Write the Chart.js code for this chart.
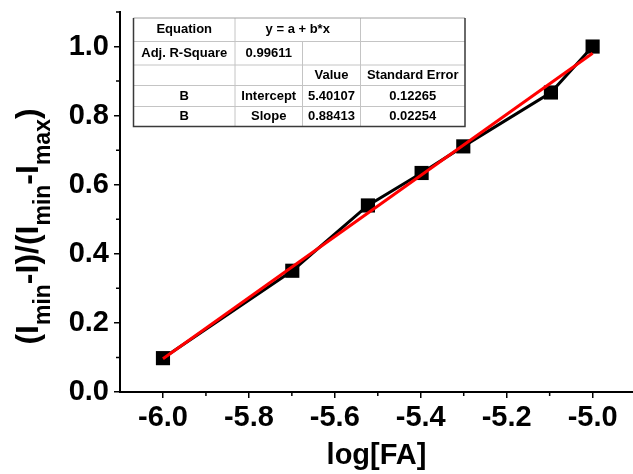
<!DOCTYPE html>
<html>
<head>
<meta charset="utf-8">
<script src="https://cdn.jsdelivr.net/npm/chart.js@4/dist/chart.umd.min.js"></script>
<style>
html,body{margin:0;padding:0;background:#fff;}
#wrap{width:633px;height:474px;position:relative;}
canvas{display:block;}
</style>
</head>
<body>
<div id="wrap"><canvas id="c" width="633" height="474" style="width:633px;height:474px"></canvas></div>
<script>
// ---- data ----
const logFA = [-6.0, -5.699, -5.523, -5.398, -5.301, -5.097, -5.0];
const ratio = [0.098, 0.351, 0.540, 0.634, 0.711, 0.867, 1.0];
const fitRange = [-6.0, -5.0];

const xTicks = [-6.0, -5.8, -5.6, -5.4, -5.2, -5.0];
const xMinorTicks = [-5.9, -5.7, -5.5, -5.3, -5.1];
const yTicks = [0.0, 0.2, 0.4, 0.6, 0.8, 1.0];
const yMinorTicks = [0.1, 0.3, 0.5, 0.7, 0.9, 1.1];

const tableEquation = ["Equation", "y = a + b*x"];
const tableAdjR2 = ["Adj. R-Square", "0.99611"];
const tableHeads = ["", "", "Value", "Standard Error"];
const tableIntercept = ["B", "Intercept", "5.40107", "0.12265"];
const tableSlope = ["B", "Slope", "0.88413", "0.02254"];

const xTitle = "log[FA]";
const yTitleParts = [["(I", 0], ["min", 1], ["-I)/(I", 0], ["min", 1], ["-I", 0], ["max", 1], [")", 0]];

const fitIntercept = parseFloat(tableIntercept[2]);
const fitSlope = parseFloat(tableSlope[2]);

const FONT = "'Liberation Sans', Arial, sans-serif";

const minorTicksPlugin = {
  id: 'minorTicks',
  afterDraw(chart) {
    const ctx = chart.ctx;
    const xs = chart.scales.x, ys = chart.scales.y;
    ctx.save();
    ctx.strokeStyle = '#000';
    ctx.lineWidth = 1.5;
    ctx.beginPath();
    xMinorTicks.forEach(v => {
      const p = xs.getPixelForValue(v);
      ctx.moveTo(p, ys.bottom); ctx.lineTo(p, ys.bottom + 4);
    });
    yMinorTicks.forEach(v => {
      const p = ys.getPixelForValue(v);
      ctx.moveTo(xs.left, p); ctx.lineTo(xs.left - 4, p);
    });
    ctx.stroke();
    ctx.restore();
  }
};

function yTitlePartsWidths(ctx, mainFont, subFont) {
  return yTitleParts.map(p => { ctx.font = p[1] ? subFont : mainFont; return ctx.measureText(p[0]).width; });
}
const yTitlePlugin = {
  id: 'yTitle',
  afterDraw(chart) {
    const ctx = chart.ctx;
    const mainFont = 'bold 32px ' + FONT;
    const subFont = 'bold 23px ' + FONT;
    ctx.save();
    const widths = yTitlePartsWidths(ctx, mainFont, subFont);
    let total = 0;
    widths.forEach(w => total += w);
    ctx.translate(38, 226.5);
    ctx.rotate(-Math.PI / 2);
    ctx.fillStyle = '#000';
    ctx.textBaseline = 'alphabetic';
    ctx.textAlign = 'left';
    let x = -total / 2;
    yTitleParts.forEach((p, i) => {
      ctx.font = p[1] ? subFont : mainFont;
      ctx.fillText(p[0], x, p[1] ? 12 : 0);
      x += widths[i];
    });
    ctx.restore();
  }
};

const tablePlugin = {
  id: 'fitTable',
  afterDatasetsDraw(chart) {
    const ctx = chart.ctx;
    const cx = [133.5, 235, 302.5, 360.5, 465];
    const ry = [18, 41.5, 65, 85.5, 106.5, 126.5];
    ctx.save();
    ctx.fillStyle = '#fff';
    ctx.fillRect(cx[0], ry[0], cx[4] - cx[0], ry[5] - ry[0]);
    ctx.strokeStyle = '#c4c4c4';
    ctx.lineWidth = 1;
    ctx.beginPath();
    for (let r = 1; r < 5; r++) { ctx.moveTo(cx[0], ry[r]); ctx.lineTo(cx[4], ry[r]); }
    ctx.moveTo(cx[1], ry[0]); ctx.lineTo(cx[1], ry[5]);
    ctx.moveTo(cx[2], ry[1]); ctx.lineTo(cx[2], ry[5]);
    ctx.moveTo(cx[3], ry[0]); ctx.lineTo(cx[3], ry[5]);
    ctx.stroke();
    ctx.strokeStyle = '#a0a0a0';
    ctx.beginPath(); ctx.moveTo(cx[0], ry[0]); ctx.lineTo(cx[4], ry[0]); ctx.stroke();
    ctx.strokeStyle = '#3a3a3a';
    ctx.lineWidth = 1.5;
    ctx.beginPath();
    ctx.moveTo(cx[0], ry[0]); ctx.lineTo(cx[0], ry[5]); ctx.lineTo(cx[4], ry[5]); ctx.lineTo(cx[4], ry[0]);
    ctx.stroke();
    ctx.fillStyle = '#000';
    ctx.font = 'bold 13px ' + FONT;
    ctx.textAlign = 'center';
    ctx.textBaseline = 'middle';
    const mid = (a, b) => (a + b) / 2;
    ctx.fillText(tableEquation[0], mid(cx[0], cx[1]), mid(ry[0], ry[1]));
    ctx.fillText(tableEquation[1], mid(cx[1], cx[3]), mid(ry[0], ry[1]));
    ctx.fillText(tableAdjR2[0], mid(cx[0], cx[1]), mid(ry[1], ry[2]));
    ctx.fillText(tableAdjR2[1], mid(cx[1], cx[2]), mid(ry[1], ry[2]));
    [tableHeads, tableIntercept, tableSlope].forEach((row, ri) => {
      row.forEach((t, ci) => {
        if (t) ctx.fillText(t, mid(cx[ci], cx[ci + 1]), mid(ry[ri + 2], ry[ri + 3]));
      });
    });
    ctx.restore();
  }
};

new Chart(document.getElementById('c'), {
  type: 'scatter',
  data: {
    datasets: [
      {
        label: 'Linear Fit',
        data: fitRange.map(x => ({ x: x, y: fitIntercept + fitSlope * x })),
        showLine: true,
        borderColor: '#ff0000',
        borderWidth: 3,
        pointRadius: 0,
        fill: false
      },
      {
        label: 'B',
        data: logFA.map((x, i) => ({ x: x, y: ratio[i] })),
        showLine: true,
        borderColor: '#000',
        borderWidth: 3,
        pointStyle: 'rect',
        pointRadius: 10,
        pointBackgroundColor: '#000',
        pointBorderColor: '#000',
        pointBorderWidth: 0,
        fill: false
      }
    ]
  },
  options: {
    responsive: false,
    animation: false,
    devicePixelRatio: 1,
    layout: { autoPadding: false, padding: { top: 12, right: 0, bottom: 0, left: 0 } },
    plugins: { legend: { display: false }, tooltip: { enabled: false }, title: { display: false } },
    scales: {
      x: {
        type: 'linear',
        min: -6.1,
        max: -4.906,
        afterBuildTicks: s => { s.ticks = xTicks.map(v => ({ value: v })); },
        afterFit: s => { s.height = 82; s.paddingLeft = 0; s.paddingRight = 0; },
        grid: { display: true, drawOnChartArea: false, drawTicks: true, tickLength: 6, color: '#000', lineWidth: 1.5 },
        border: { display: true, color: '#000', width: 2 },
        ticks: {
          autoSkip: false, maxRotation: 0, color: '#000', padding: 3,
          font: { family: FONT, size: 29, weight: 'bold' },
          callback: v => v.toFixed(1)
        },
        title: {
          display: true, text: xTitle, color: '#000',
          font: { family: FONT, size: 29, weight: 'bold' },
          padding: { top: 0, bottom: 1 }
        }
      },
      y: {
        type: 'linear',
        min: 0,
        max: 1.1,
        afterBuildTicks: s => { s.ticks = yTicks.map(v => ({ value: v })); },
        afterFit: s => { s.width = 120; s.paddingTop = 0; s.paddingBottom = 0; },
        grid: { display: true, drawOnChartArea: false, drawTicks: true, tickLength: 6, color: '#000', lineWidth: 1.5 },
        border: { display: true, color: '#000', width: 2 },
        ticks: {
          autoSkip: false, color: '#000', padding: 5,
          font: { family: FONT, size: 29, weight: 'bold' },
          callback: v => v.toFixed(1)
        },
        title: { display: false }
      }
    }
  },
  plugins: [minorTicksPlugin, tablePlugin, yTitlePlugin]
});
</script>
</body>
</html>
